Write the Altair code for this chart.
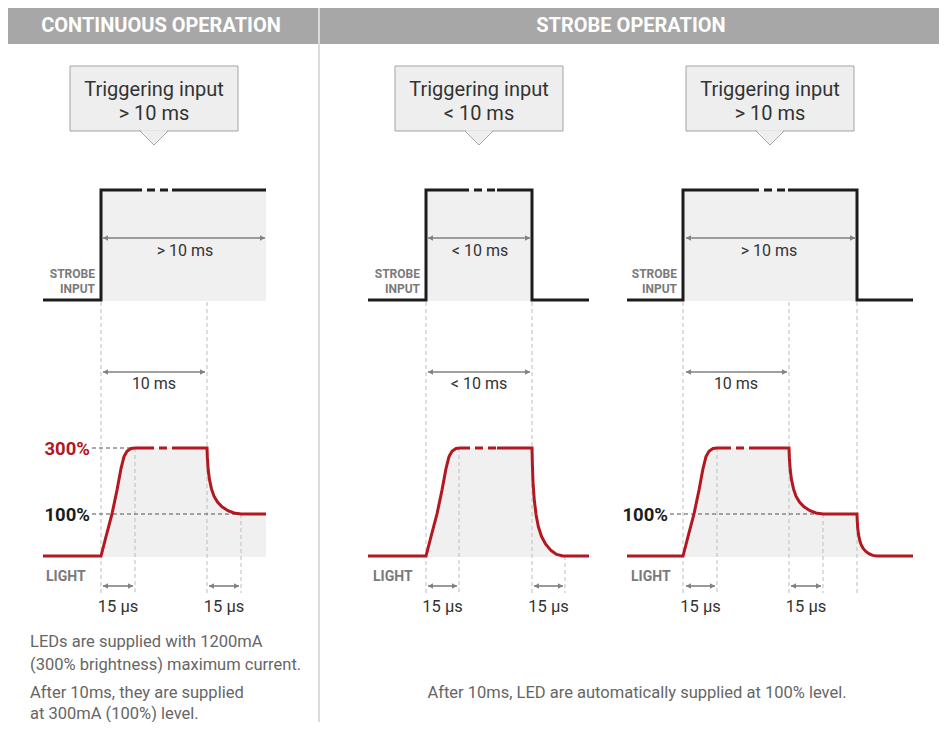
import altair as alt
import pandas as pd

# ---------------- canvas (reference pixel space) ----------------
X0, X1, Y0, Y1 = 8, 939, 8, 722
W, H = X1 - X0, Y1 - Y0

# ---------------- signal levels (y, px) ----------------
STROBE_LOW, STROBE_HIGH = 300, 190
LIGHT_BASE, LIGHT_100, LIGHT_300 = 556, 514, 448

# ---------------- panel timing anchors (x, px) ----------------
panel_ids = ["cont", "short", "long"]
line_start = [43, 368, 627]
rise_x = [101, 426, 683]
mark10_x = [207, 532, 789]
strobe_fall = [None, 532, 857]
line_end = [266, 589, 913]
strobe_gap = [(134, 172), (461, 497), (751, 788)]
light_gap = [(146, 172), (462, 497), (723, 752)]

# read-off shapes of the light curve (rise to 300 %, decays)
RISE_DX = [0, 5, 11, 16, 20, 23, 26, 30, 34]
RISE_FRAC = [0, .18, .39, .61, .81, .92, .97, .995, 1]
DECAY_DX = [0, .4, 1.2, 2.5, 4.5, 7, 10.5, 15, 21, 27, 34]
DECAY_FRAC = [0, .15, .33, .48, .62, .73, .82, .89, .95, .985, 1]

# callouts
callout_cx = [154, 479, 770]
callout_line2 = ["> 10 ms", "< 10 ms", "> 10 ms"]
strobe_arrow_label = ["> 10 ms", "< 10 ms", "> 10 ms"]
mid_arrow_label = ["10 ms", "< 10 ms", "10 ms"]

# texts
header_titles = ["CONTINUOUS OPERATION", "STROBE OPERATION"]
note_left = ["LEDs are supplied with 1200mA", "(300% brightness) maximum current.",
             "After 10ms, they are supplied", "at 300mA (100%) level."]
note_right = "After 10ms, LED are automatically supplied at 100% level."

RED = "#b3171f"
BLACK = "#1c1c1c"
GREY_ARROW = "#808080"
FONT = "Roboto"

xs = alt.Scale(domain=[X0, X1], nice=False, zero=False)
ys = alt.Scale(domain=[Y0, Y1], nice=False, zero=False, reverse=True)


def ex(f="x"):
    return alt.X(f"{f}:Q", scale=xs, axis=None)


def ey(f="y"):
    return alt.Y(f"{f}:Q", scale=ys, axis=None)


def rise(x0):
    return [(x0 + dx, LIGHT_BASE - fr * (LIGHT_BASE - LIGHT_300)) for dx, fr in zip(RISE_DX, RISE_FRAC)]


def decay(x0, y_from, y_to, width):
    return [(x0 + dx * width / 34.0, y_from + fr * (y_to - y_from)) for dx, fr in zip(DECAY_DX, DECAY_FRAC)]


def dedupe(pts):
    out = []
    for p in pts:
        if not out or abs(out[-1][0] - p[0]) > 1e-9 or abs(out[-1][1] - p[1]) > 1e-9:
            out.append(p)
    return out


def split_gap(pts, gap, level):
    """split polyline at a flat gap (level) -> solid parts + dashed part"""
    gs, ge = gap
    a, b = [], []
    inserted = False
    for i, p in enumerate(pts):
        if not inserted and p[1] == level and i + 1 < len(pts) and pts[i + 1][1] == level and p[0] <= gs <= pts[i + 1][0]:
            a.append(p)
            a.append((gs, level))
            b.append((ge, level))
            inserted = True
            continue
        (b if inserted else a).append(p)
    return a, [(gs, level), (ge, level)], b


# ---------------- build waveforms ----------------
light_pts, strobe_pts, fill_pts = [], [], []
for i in range(3):
    if i == 0:
        lp = [(line_start[i], LIGHT_BASE)] + rise(rise_x[i]) + decay(mark10_x[i], LIGHT_300, LIGHT_100, 34) + [(line_end[i], LIGHT_100)]
    elif i == 1:
        lp = [(line_start[i], LIGHT_BASE)] + rise(rise_x[i]) + decay(mark10_x[i], LIGHT_300, LIGHT_BASE, 31) + [(line_end[i], LIGHT_BASE)]
    else:
        lp = ([(line_start[i], LIGHT_BASE)] + rise(rise_x[i]) + decay(mark10_x[i], LIGHT_300, LIGHT_100, 34)
              + decay(strobe_fall[i], LIGHT_100, LIGHT_BASE, 20) + [(line_end[i], LIGHT_BASE)])
    lp = dedupe(lp)
    fp = [p for p in lp if p[0] >= rise_x[i]]
    if i > 0:
        fp = fp[:-1]
    for k, p in enumerate(fp):
        fill_pts.append({"x": p[0], "y": p[1], "y2": LIGHT_BASE + 1, "pid": panel_ids[i], "o": k})
    a, d, b = split_gap(lp, light_gap[i], LIGHT_300)
    for name, seg in (("a", a), ("d", d), ("b", b)):
        for k, p in enumerate(seg):
            light_pts.append({"x": p[0], "y": p[1], "seg": f"{i}{name}", "dash": name == "d", "o": k})

    sp = [(line_start[i], STROBE_LOW), (rise_x[i], STROBE_LOW), (rise_x[i], STROBE_HIGH)]
    if strobe_fall[i] is None:
        sp += [(line_end[i], STROBE_HIGH)]
    else:
        sp += [(strobe_fall[i], STROBE_HIGH), (strobe_fall[i], STROBE_LOW), (line_end[i], STROBE_LOW)]
    a, d, b = split_gap(sp, strobe_gap[i], STROBE_HIGH)
    for name, seg in (("a", a), ("d", d), ("b", b)):
        for k, p in enumerate(seg):
            strobe_pts.append({"x": p[0], "y": p[1], "seg": f"{i}{name}", "dash": name == "d", "o": k})

light_df = pd.DataFrame(light_pts)
strobe_df = pd.DataFrame(strobe_pts)
fill_df = pd.DataFrame(fill_pts)

layers = []

# ---------------- header + frame ----------------
hdr = pd.DataFrame({"x": [4, 320], "x2": [318, 945], "y": [5, 5], "y2": [44, 44]})
layers.append(alt.Chart(hdr).mark_rect(color="#a7a7a7").encode(x=ex(), x2="x2:Q", y=ey(), y2="y2:Q"))
frame = pd.DataFrame({"x": [4, 319, 944], "x2": [4, 319, 944], "y": [44, 3, 44], "y2": [730, 730, 730]})
layers.append(alt.Chart(frame).mark_rule(color="#cfcfcf", strokeWidth=1.5).encode(x=ex(), x2="x2:Q", y=ey(), y2="y2:Q"))

# ---------------- grey fills ----------------
sfill = pd.DataFrame({"x": rise_x, "x2": [strobe_fall[0] or line_end[0], strobe_fall[1], strobe_fall[2]],
                      "y": [STROBE_HIGH] * 3, "y2": [STROBE_LOW + 1] * 3})
layers.append(alt.Chart(sfill).mark_rect(color="#f0f0f0").encode(x=ex(), x2="x2:Q", y=ey(), y2="y2:Q"))
layers.append(alt.Chart(fill_df).mark_area(color="#f0f0f0", interpolate="linear").encode(
    x=ex(), y=ey(), y2="y2:Q", detail="pid:N"))

# ---------------- dashed guides ----------------
g_x = [101, 207, 135, 241, 426, 532, 459, 565, 683, 789, 857, 717, 823]
g_top = [302, 302, 448, 514, 302, 302, 448, 556, 302, 302, 302, 448, 514]
guides = pd.DataFrame({"x": g_x, "x2": g_x, "y": g_top, "y2": [593] * len(g_x)})
layers.append(alt.Chart(guides).mark_rule(color="#bdbdbd", strokeWidth=1, strokeDash=[4, 3]).encode(
    x=ex(), x2="x2:Q", y=ey(), y2="y2:Q"))

ref = pd.DataFrame({"x": [92, 92, 670], "x2": [135, 241, 823], "y": [LIGHT_300, LIGHT_100, LIGHT_100]})
ref["y2"] = ref["y"]
layers.append(alt.Chart(ref).mark_rule(color="#555555", strokeWidth=1.2, strokeDash=[4, 3]).encode(
    x=ex(), x2="x2:Q", y=ey(), y2="y2:Q"))

# ---------------- dimension arrows ----------------
arr_x1 = [103, 428, 686, 103, 428, 686, 103, 209, 428, 534, 686, 791]
arr_x2 = [265, 530, 855, 205, 530, 787, 133, 239, 457, 563, 715, 821]
arr_y = [238] * 3 + [372] * 3 + [586] * 6
arrows = pd.DataFrame({"x": arr_x1, "x2": arr_x2, "y": arr_y, "y2": arr_y})
layers.append(alt.Chart(arrows).mark_rule(color=GREY_ARROW, strokeWidth=1.6).encode(
    x=ex(), x2="x2:Q", y=ey(), y2="y2:Q"))
heads_l = pd.DataFrame({"x": [v + 2.5 for v in arr_x1], "y": arr_y})
heads_r = pd.DataFrame({"x": [v - 2.5 for v in arr_x2], "y": arr_y})
layers.append(alt.Chart(heads_l).mark_point(shape="triangle-left", filled=True, size=32, color=GREY_ARROW, opacity=1).encode(x=ex(), y=ey()))
layers.append(alt.Chart(heads_r).mark_point(shape="triangle-right", filled=True, size=32, color=GREY_ARROW, opacity=1).encode(x=ex(), y=ey()))

# ---------------- waveforms ----------------
for df, col in ((strobe_df, BLACK), (light_df, RED)):
    solid = df[~df["dash"]]
    dash = df[df["dash"]]
    layers.append(alt.Chart(solid).mark_line(color=col, strokeWidth=3, strokeJoin="miter", strokeCap="butt").encode(
        x=ex(), y=ey(), detail="seg:N", order="o:Q"))
    layers.append(alt.Chart(dash).mark_line(color=col, strokeWidth=3, strokeDash=[8, 5], strokeCap="butt").encode(
        x=ex(), y=ey(), detail="seg:N", order="o:Q"))

# ---------------- callout boxes ----------------
box = pd.DataFrame({"x": [c - 84 for c in callout_cx], "x2": [c + 84 for c in callout_cx],
                    "y": [66] * 3, "y2": [131] * 3})
layers.append(alt.Chart(box).mark_rect(fill="#eeeeee", stroke="#a3a3a3", strokeWidth=1).encode(
    x=ex(), x2="x2:Q", y=ey(), y2="y2:Q"))
ptr_fill, ptr_line = [], []
for i, c in enumerate(callout_cx):
    for k, (dx, yy) in enumerate([(-13, 131), (0, 144), (13, 131)]):
        ptr_fill.append({"x": c + dx, "y": yy, "y2": 130.2, "pid": panel_ids[i]})
    for k, (dx, yy) in enumerate([(-14, 131), (0, 145), (14, 131)]):
        ptr_line.append({"x": c + dx, "y": yy, "pid": panel_ids[i], "o": k})
layers.append(alt.Chart(pd.DataFrame(ptr_fill)).mark_area(color="#eeeeee").encode(
    x=ex(), y=ey(), y2="y2:Q", detail="pid:N"))
layers.append(alt.Chart(pd.DataFrame(ptr_line)).mark_line(color="#a3a3a3", strokeWidth=1).encode(
    x=ex(), y=ey(), detail="pid:N", order="o:Q"))


# ---------------- texts ----------------
def text_layer(rows, **kw):
    df = pd.DataFrame(rows, columns=["x", "y", "t"])
    base = dict(baseline="middle", align="center", font=FONT)
    base.update(kw)
    return alt.Chart(df).mark_text(**base).encode(x=ex(), y=ey(), text="t:N")


layers.append(text_layer([(161, 25, header_titles[0]), (631, 25, header_titles[1])],
                         fontSize=20, fontWeight="bold", color="white", dy=1))
layers.append(text_layer([(c, 89, "Triggering input") for c in callout_cx], fontSize=20, color="#333333", dy=1))
layers.append(text_layer([(c, 113, t) for c, t in zip(callout_cx, callout_line2)], fontSize=20, color="#333333", dy=1))
layers.append(text_layer([(185, 250, strobe_arrow_label[0]), (480, 250, strobe_arrow_label[1]),
                          (769, 250, strobe_arrow_label[2])], fontSize=16, color="#333333", dy=1))
layers.append(text_layer([(154, 383, mid_arrow_label[0]), (479, 383, mid_arrow_label[1]),
                          (736, 383, mid_arrow_label[2])], fontSize=16, color="#333333", dy=1))
mus = [((a + b) / 2, 606, "15 µs") for a, b in zip(arr_x1[6:], arr_x2[6:])]
layers.append(text_layer(mus, fontSize=16.5, color="#333333", dy=1))
layers.append(text_layer([(x, 273, "STROBE") for x in (95, 420, 677)] + [(x, 288, "INPUT") for x in (95, 420, 677)],
                         fontSize=12, fontWeight="bold", color="#7a7a7a", align="right", dy=0.5))
layers.append(text_layer([(x, 576, "LIGHT") for x in (46, 373, 631)],
                         fontSize=14, fontWeight="bold", color="#7a7a7a", align="left", dy=0.5))
layers.append(text_layer([(90, LIGHT_300, "300%")], fontSize=18.5, fontWeight="bold", color=RED, align="right", dy=0.5))
layers.append(text_layer([(90, LIGHT_100, "100%"), (668, LIGHT_100, "100%")], fontSize=18.5, fontWeight="bold",
                         color="#1c1c1c", align="right", dy=0.5))
layers.append(text_layer([(30, y, t) for y, t in zip([641, 664, 692, 713], note_left)],
                         fontSize=16.5, color="#666666", align="left", dy=1))
layers.append(text_layer([(637, 692, note_right)], fontSize=16.5, color="#666666", dy=1))

chart = alt.layer(*layers).properties(
    width=W, height=H, padding=0, autosize=alt.AutoSizeParams(type="none"), background="white"
).configure_view(stroke=None)

chart.save("out.html", embed_options={"renderer": "svg", "actions": False})
